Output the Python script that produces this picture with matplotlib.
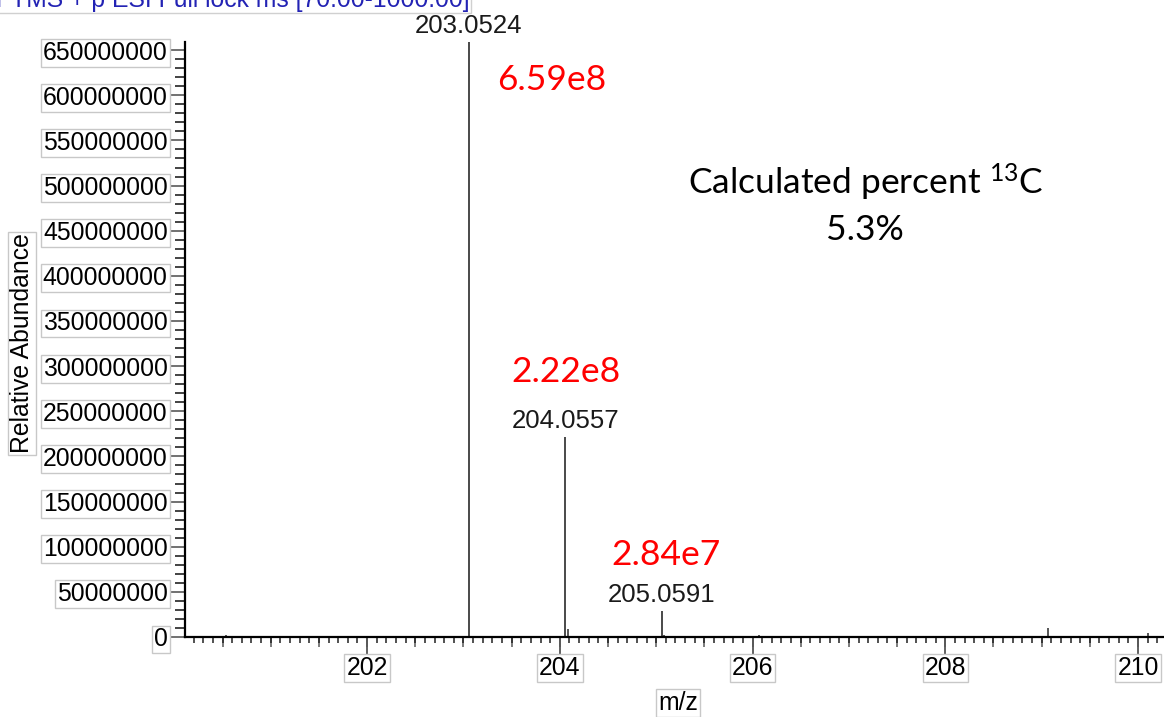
import numpy as np
import matplotlib
matplotlib.use('Agg')
import matplotlib.pyplot as plt
from matplotlib.ticker import MultipleLocator, FixedLocator, FuncFormatter

plt.rcParams['font.family'] = 'Liberation Sans'
plt.rcParams['mathtext.fontset'] = 'custom'
plt.rcParams['mathtext.rm'] = 'Lato'
plt.rcParams['mathtext.it'] = 'Lato:italic'

# main isotopologue peaks (m/z, intensity)
peak_mz = [203.0524, 204.0557, 205.0591]
peak_int = [6.59e8, 2.22e8, 2.84e7]
peak_text = ['6.59e8', '2.22e8', '2.84e7']

# small background peaks
minor_mz = [200.54, 201.04, 201.09, 202.97, 203.07, 203.12, 204.08, 204.12,
            205.08, 206.07, 208.06, 208.53, 209.07, 209.12, 210.10]
minor_int = [2.0e6, 1.5e6, 1.0e6, 1.5e6, 1.5e6, 1.0e6, 8.5e6, 1.5e6,
             2.0e6, 2.0e6, 1.5e6, 1.0e6, 1.0e7, 1.0e6, 4.5e6]

pct_13c = '5.3%'

W, H = 1164, 717
fig = plt.figure(figsize=(W / 100, H / 100), dpi=100)
ax = fig.add_axes([185 / W, 1 - 637 / H, (W - 185) / W, (637 - 42) / H])

ax.vlines(minor_mz, 0, minor_int, color='#3a3a3a', lw=1.2)
ax.vlines(peak_mz, 0, peak_int, color='#3a3a3a', lw=1.3)

ax.set_xlim(200.11, 210.27)
ax.set_ylim(0, 6.59e8)

for s in ['top', 'right']:
    ax.spines[s].set_visible(False)
for s in ['left', 'bottom']:
    ax.spines[s].set_linewidth(1.6)

box = dict(facecolor='white', edgecolor='#c8c8c8', lw=1, pad=1.5)
fs = 17.8

# y axis
ax.yaxis.set_major_locator(FixedLocator(np.arange(0, 6.5e8 + 1, 5e7)))
ax.yaxis.set_minor_locator(MultipleLocator(1e7))
ax.yaxis.set_major_formatter(FuncFormatter(lambda v, p: f'{v:.0f}'))
ax.tick_params(axis='y', which='major', length=11, width=1.3, color='#666',
               labelsize=fs, pad=1.5)
ax.tick_params(axis='y', which='minor', length=7, width=1.2, color='#222')

# x axis
ax.xaxis.set_major_locator(FixedLocator([202, 204, 206, 208, 210]))
ax.xaxis.set_minor_locator(MultipleLocator(0.1))
ax.tick_params(axis='x', which='major', length=12.5, width=1.3, color='#555',
               labelsize=fs, pad=1.5)
ax.tick_params(axis='x', which='minor', length=4.5, width=1.1, color='#222')

sec = ax.secondary_xaxis('bottom')
sec.set_xticks(np.arange(200.5, 210.3, 0.5))
sec.tick_params(length=7.5, width=1.2, color='#666', labelbottom=False)
sec.spines['bottom'].set_visible(False)

for t in ax.yaxis.get_major_ticks() + ax.xaxis.get_major_ticks():
    t.label1.set_bbox(box)

ax.set_ylabel('Relative Abundance', fontsize=fs, bbox=box, va='center')
ax.yaxis.set_label_coords((22 - 185) / (W - 185), (637 - 343.5) / 595)
ax.set_xlabel('m/z', fontsize=fs, bbox=box, va='center')
ax.xaxis.set_label_coords((678 - 185) / (W - 185), (637 - 703) / 595)

# scan header, running off the top edge
fig.text(-4 / W, 1 - 7 / H, 'FTMS + p ESI Full lock ms [70.00-1000.00]',
         color='#2323b4', fontsize=fs, va='baseline', ha='left',
         bbox=dict(facecolor='none', edgecolor='#d0d0d0', lw=1, pad=1))

# peak m/z labels
for mz, h in zip(peak_mz, peak_int):
    ax.annotate(f'{mz:.4f}', (mz, h), xytext=(0, 6.5), textcoords='offset points',
                ha='center', va='baseline', fontsize=18.5, color='#1a1a1a',
                annotation_clip=False)

# intensity labels
red_pos = [(203.35, 6.17e8), (203.50, 2.935e8), (204.53, 9.08e7)]
for (x, y), txt in zip(red_pos, peak_text):
    ax.text(x, y, txt, color='red', fontsize=25.5, family='Lato',
            ha='left', va='center')

ax.text(207.17, 5.03e8, r'Calculated percent $^{13}$C', fontsize=25.5,
        family='Lato', ha='center', va='center')
ax.text(207.17, 4.507e8, pct_13c, fontsize=25.5, family='Lato',
        ha='center', va='center')

fig.savefig('out.png', dpi=100)
